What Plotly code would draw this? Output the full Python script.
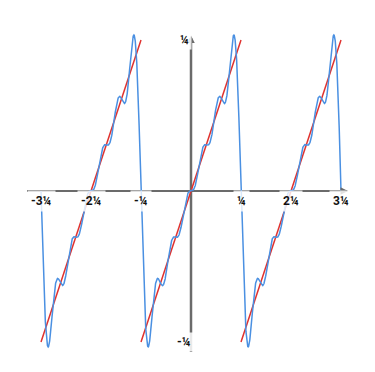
import numpy as np
import plotly.graph_objects as go

PI = np.pi

# Fourier partial sum of the sawtooth f(x) = x on (-pi, pi): 6 harmonics
harmonics = [1, 2, 3, 4, 5, 6]
coefficients = [2.0, -1.0, 2.0 / 3.0, -0.5, 0.4, -1.0 / 3.0]

# sawtooth (red) segment endpoints, in multiples of pi
saw_x = [-3, -1, None, -1, 1, None, 1, 3]
saw_y = [-1, 1, None, -1, 1, None, -1, 1]

# blue curve domain, in multiples of pi
curve_start, curve_end = -3, 3

# tick labels (as rendered in the reference)
x_tick_pos = [-3, -2, -1, 1, 2, 3]
x_tick_text = ["-3¼", "-2¼", "-¼", "¼", "2¼", "3¼"]
y_tick_pos = [1, -1]
y_tick_text = ["¼", "-¼"]

xs = np.linspace(curve_start * PI, curve_end * PI, 3000)
ys = np.zeros_like(xs)
for k, b in zip(harmonics, coefficients):
    ys += b * np.sin(k * xs)

fig = go.Figure()
fig.add_trace(go.Scatter(
    x=[v * PI if v is not None else None for v in saw_x],
    y=[v * PI if v is not None else None for v in saw_y],
    mode="lines", line=dict(color="#e0322f", width=1.5),
    hoverinfo="skip", showlegend=False))
fig.add_trace(go.Scatter(
    x=xs, y=ys, mode="lines", line=dict(color="#4a90e2", width=1.5),
    hoverinfo="skip", showlegend=False))

axis_col = "#6b6b6b"
x_axis_ext = (-3.28 * PI, 3.14 * PI)
y_axis_ext = (-1.066 * PI, 1.03 * PI)

shapes = [
    dict(type="line", xref="x", yref="y", x0=x_axis_ext[0], x1=x_axis_ext[1] - 0.05,
         y0=0, y1=0, line=dict(color=axis_col, width=2), layer="below"),
    dict(type="line", xref="x", yref="y", x0=0, x1=0, y0=y_axis_ext[0],
         y1=y_axis_ext[1] - 0.05, line=dict(color=axis_col, width=2.5), layer="below"),
]

annotations = [
    dict(x=x_axis_ext[1], y=0, ax=x_axis_ext[1] - 0.4, ay=0, xref="x", yref="y",
         axref="x", ayref="y", text="", showarrow=True, arrowhead=2, arrowsize=1,
         arrowwidth=1.5, arrowcolor=axis_col),
    dict(x=0, y=y_axis_ext[1], ax=0, ay=y_axis_ext[1] - 0.2, xref="x", yref="y",
         axref="x", ayref="y", text="", showarrow=True, arrowhead=2, arrowsize=1,
         arrowwidth=1.5, arrowcolor=axis_col),
]
label_font = dict(family="Roboto", size=12, color="#111")
for p, t in zip(x_tick_pos, x_tick_text):
    annotations.append(dict(
        x=p * PI, y=0, xref="x", yref="y", text="<b>" + t + "</b>", showarrow=False,
        yshift=-10, font=label_font,
        bgcolor="rgba(255,255,255,0.8)", borderpad=3))
for p, t in zip(y_tick_pos, y_tick_text):
    annotations.append(dict(
        x=0, y=p * PI, xref="x", yref="y", text="<b>" + t + "</b>", showarrow=False,
        xshift=-7, font=label_font,
        bgcolor="rgba(255,255,255,0.85)", borderpad=2))

fig.update_layout(
    width=375, height=372,
    margin=dict(l=0, r=0, t=0, b=0),
    paper_bgcolor="white", plot_bgcolor="white",
    xaxis=dict(visible=False, range=[-3.82 * PI, 3.68 * PI], fixedrange=True),
    yaxis=dict(visible=False, range=[-1.199 * PI, 1.265 * PI], fixedrange=True),
    shapes=shapes, annotations=annotations,
)

fig.write_html("out.html", config={"displayModeBar": False},
               post_script="document.body.style.margin='0';")
